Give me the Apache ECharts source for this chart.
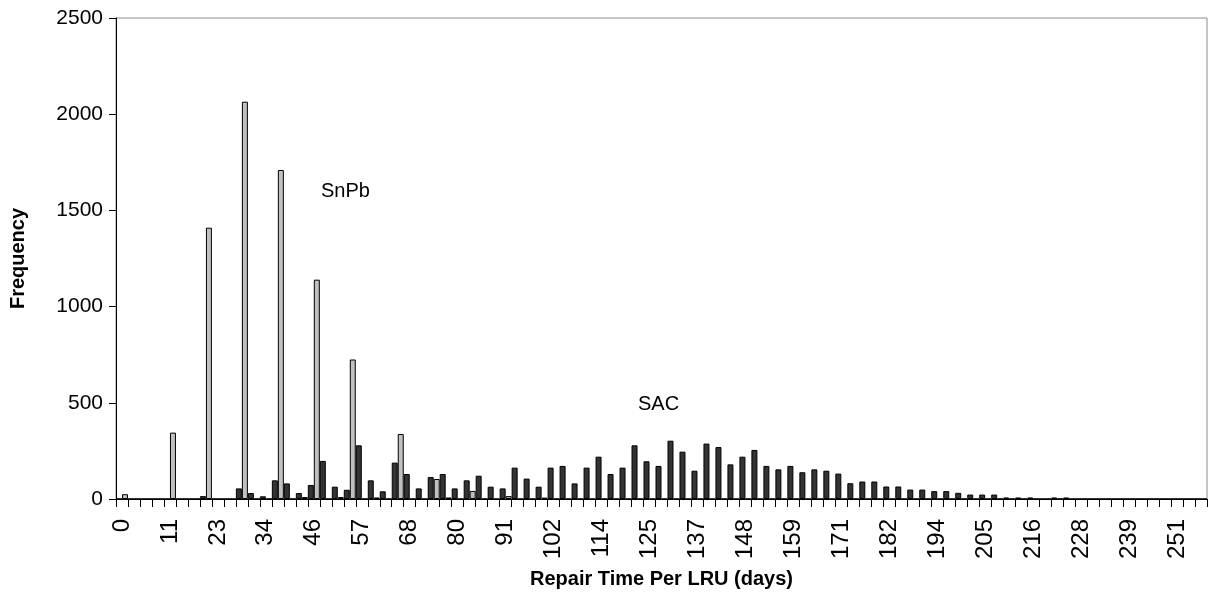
<!DOCTYPE html>
<html>
<head>
<meta charset="utf-8">
<script src="https://cdn.jsdelivr.net/npm/echarts@6/dist/echarts.min.js"></script>
<style>
  html, body { margin: 0; padding: 0; background: #ffffff; }
  #chart { width: 1213px; height: 592px; }
</style>
</head>
<body>
<div id="chart"></div>
<script>
// Repair time bins (days), one category per bin
const repairDays = [
  '0','3','6','9','11','14','17','20','23','26','28','31','34','37','40','43',
  '46','48','51','54','57','60','63','65','68','71','74','77','80','83','85','88',
  '91','94','97','100','102','105','108','111','114','117','120','122','125','128',
  '131','134','137','140','142','145','148','151','154','157','159','162','165',
  '168','171','174','177','179','182','185','188','191','194','196','199','202',
  '205','208','211','214','216','219','222','225','228','231','233','236','239',
  '242','245','248','251','253','256'
];

// Frequency of repair times, lead-free (SAC) solder
const sacFreq = [
  0, 0, 0, 0, 0, 0, 0, 15, 0, 0,
  55, 31, 14, 97, 81, 31, 73, 198, 64, 48,
  279, 97, 40, 189, 130, 55, 114, 130, 55, 97,
  121, 64, 55, 163, 106, 64, 163, 172, 81, 163,
  220, 130, 163, 279, 196, 172, 303, 246, 147, 288,
  270, 180, 220, 255, 172, 154, 172, 139, 154, 147,
  132, 82, 91, 91, 65, 65, 49, 49, 41, 41,
  32, 23, 23, 23, 8, 8, 8, 0, 8, 8,
  0, 0, 0, 0, 0, 0, 0, 0, 0, 0, 0
];

// Frequency of repair times, tin-lead (SnPb) solder
const snpbFreq = [
  25, 0, 0, 0, 345, 0, 0, 1410, 0, 0,
  2065, 0, 0, 1710, 0, 10, 1140, 0, 10, 725,
  0, 8, 0, 338, 0, 0, 104, 8, 0, 42,
  0, 0, 15, 0, 0, 7, 0, 0, 0, 0,
  0, 0, 0, 0, 0, 0, 0, 0, 0, 0,
  0, 0, 0, 0, 0, 0, 0, 0, 0, 0,
  0, 0, 0, 0, 0, 0, 0, 0, 0, 0,
  0, 0, 0, 0, 0, 0, 0, 0, 0, 0,
  0, 0, 0, 0, 0, 0, 0, 0, 0, 0, 0
];

const freqTicks = [0, 500, 1000, 1500, 2000, 2500];

const FONT = '"Liberation Sans", Arial, sans-serif';
const chart = echarts.init(document.getElementById('chart'), null, { renderer: 'canvas' });

chart.setOption({
  backgroundColor: '#ffffff',
  animation: false,
  grid: {
    left: 116, right: 6, top: 18, bottom: 93,
    containLabel: false,
    outerBoundsMode: 'none',
    show: true, borderColor: '#8c8c8c', borderWidth: 1, backgroundColor: 'transparent'
  },
  xAxis: {
    type: 'category',
    data: repairDays,
    boundaryGap: true,
    name: 'Repair Time Per LRU (days)',
    nameLocation: 'middle',
    nameGap: 70,
    nameTextStyle: { fontFamily: FONT, fontSize: 20, fontWeight: 'bold', color: '#000' },
    axisLine: { show: true, lineStyle: { color: '#000', width: 1 } },
    axisTick: { show: true, interval: 0, length: 8, lineStyle: { color: '#000' } },
    axisLabel: {
      interval: 3, rotate: 90, margin: 20,
      fontFamily: FONT, fontSize: 24, color: '#000'
    },
    splitLine: { show: false }
  },
  yAxis: {
    type: 'value',
    min: freqTicks[0],
    max: freqTicks[freqTicks.length - 1],
    interval: 500,
    name: 'Frequency',
    nameLocation: 'middle',
    nameGap: 88,
    nameTextStyle: { fontFamily: FONT, fontSize: 20, fontWeight: 'bold', color: '#000' },
    axisLine: { show: true, lineStyle: { color: '#000', width: 1 } },
    axisTick: { show: true, length: 7, lineStyle: { color: '#000' } },
    axisLabel: {
      margin: 13, fontFamily: FONT, fontSize: 21, color: '#000',
      formatter: (v) => String(v)
    },
    splitLine: { show: false }
  },
  series: [
    {
      name: 'SAC',
      type: 'bar',
      data: sacFreq,
      barGap: '0%',
      barCategoryGap: '0%',
      itemStyle: { color: '#333333', borderColor: '#000', borderWidth: 1 }
    },
    {
      name: 'SnPb',
      type: 'bar',
      data: snpbFreq,
      barGap: '0%',
      barCategoryGap: '0%',
      itemStyle: { color: '#c0c0c0', borderColor: '#000', borderWidth: 1 }
    }
  ],
  graphic: [
    {
      type: 'text', left: 321, top: 181,
      style: { text: 'SnPb', fontFamily: FONT, fontSize: 20, fill: '#000' }
    },
    {
      type: 'text', left: 638, top: 394,
      style: { text: 'SAC', fontFamily: FONT, fontSize: 20, fill: '#000' }
    }
  ]
});
</script>
</body>
</html>
